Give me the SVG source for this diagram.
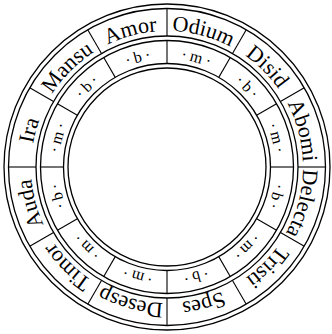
<svg xmlns="http://www.w3.org/2000/svg" xmlns:xlink="http://www.w3.org/1999/xlink" width="332" height="334" viewBox="0 0 332 334">
<style>
.ring{fill:none;stroke:#000;stroke-width:1.3}
.div{stroke:#000;stroke-width:1.1}
.w{font-family:"Liberation Serif","DejaVu Serif",serif;font-size:22px;fill:#000}
.s{font-family:"Liberation Serif","DejaVu Serif",serif;font-size:16px;fill:#000;letter-spacing:3px}
</style>
<defs>
<path id="po" d="M167 31 A136 136 0 1 1 167 303 A136 136 0 1 1 167 31"/>
<path id="pi" d="M167 58.5 A108.5 108.5 0 1 1 167 275.5 A108.5 108.5 0 1 1 167 58.5"/>
<line id="d1" x1="167" y1="8.5" x2="167" y2="36" class="div"/>
<line id="d2" x1="167" y1="40.5" x2="167" y2="63.5" class="div"/>
</defs>
<rect width="332" height="334" fill="#fff"/>
<g id="rings">
<circle class="ring" cx="167" cy="167" r="163"/>
<circle class="ring" cx="167" cy="167" r="158.5"/>
<circle class="ring" cx="167" cy="167" r="131"/>
<circle class="ring" cx="167" cy="167" r="126.5"/>
<circle class="ring" cx="167" cy="167" r="103.5"/>
<circle class="ring" cx="167" cy="167" r="99"/>
</g>
<g id="connectors">
<use href="#d1"/><use href="#d1" transform="rotate(30 167 167)"/><use href="#d1" transform="rotate(60 167 167)"/><use href="#d1" transform="rotate(90 167 167)"/><use href="#d1" transform="rotate(120 167 167)"/><use href="#d1" transform="rotate(150 167 167)"/><use href="#d1" transform="rotate(180 167 167)"/><use href="#d1" transform="rotate(210 167 167)"/><use href="#d1" transform="rotate(240 167 167)"/><use href="#d1" transform="rotate(270 167 167)"/><use href="#d1" transform="rotate(300 167 167)"/><use href="#d1" transform="rotate(330 167 167)"/>
<use href="#d2"/><use href="#d2" transform="rotate(30 167 167)"/><use href="#d2" transform="rotate(60 167 167)"/><use href="#d2" transform="rotate(90 167 167)"/><use href="#d2" transform="rotate(120 167 167)"/><use href="#d2" transform="rotate(150 167 167)"/><use href="#d2" transform="rotate(180 167 167)"/><use href="#d2" transform="rotate(210 167 167)"/><use href="#d2" transform="rotate(240 167 167)"/><use href="#d2" transform="rotate(270 167 167)"/><use href="#d2" transform="rotate(300 167 167)"/><use href="#d2" transform="rotate(330 167 167)"/>
</g>
<g id="amor" transform="rotate(-30 167 167)"><text class="w"><textPath href="#po" startOffset="4.1667%" text-anchor="middle">Amor</textPath></text><text class="s" dx="1.5"><textPath href="#pi" startOffset="4.1667%" text-anchor="middle">·b·</textPath></text></g>
<g id="odium" transform="rotate(0 167 167)"><text class="w"><textPath href="#po" startOffset="4.1667%" text-anchor="middle">Odium</textPath></text><text class="s" dx="1.5"><textPath href="#pi" startOffset="4.1667%" text-anchor="middle">·m·</textPath></text></g>
<g id="disid" transform="rotate(30 167 167)"><text class="w"><textPath href="#po" startOffset="4.1667%" text-anchor="middle">Disid</textPath></text><text class="s" dx="1.5"><textPath href="#pi" startOffset="4.1667%" text-anchor="middle">·b·</textPath></text></g>
<g id="abomi" transform="rotate(60 167 167)"><text class="w"><textPath href="#po" startOffset="4.1667%" text-anchor="middle">Abomi</textPath></text><text class="s" dx="1.5"><textPath href="#pi" startOffset="4.1667%" text-anchor="middle">·m·</textPath></text></g>
<g id="delecta" transform="rotate(90 167 167)"><text class="w"><textPath href="#po" startOffset="4.1667%" text-anchor="middle">Delecta</textPath></text><text class="s" dx="1.5"><textPath href="#pi" startOffset="4.1667%" text-anchor="middle">·b·</textPath></text></g>
<g id="tristi" transform="rotate(120 167 167)"><text class="w"><textPath href="#po" startOffset="4.1667%" text-anchor="middle">Tristi</textPath></text><text class="s" dx="1.5"><textPath href="#pi" startOffset="4.1667%" text-anchor="middle">·m·</textPath></text></g>
<g id="spes" transform="rotate(150 167 167)"><text class="w"><textPath href="#po" startOffset="4.1667%" text-anchor="middle">Spes</textPath></text><text class="s" dx="1.5"><textPath href="#pi" startOffset="4.1667%" text-anchor="middle">·b·</textPath></text></g>
<g id="desesp" transform="rotate(180 167 167)"><text class="w"><textPath href="#po" startOffset="4.1667%" text-anchor="middle">Desesp</textPath></text><text class="s" dx="1.5"><textPath href="#pi" startOffset="4.1667%" text-anchor="middle">·m·</textPath></text></g>
<g id="timor" transform="rotate(210 167 167)"><text class="w"><textPath href="#po" startOffset="4.1667%" text-anchor="middle">Timor</textPath></text><text class="s" dx="1.5"><textPath href="#pi" startOffset="4.1667%" text-anchor="middle">·m·</textPath></text></g>
<g id="auda" transform="rotate(240 167 167)"><text class="w"><textPath href="#po" startOffset="4.1667%" text-anchor="middle">Auda</textPath></text><text class="s" dx="1.5"><textPath href="#pi" startOffset="4.1667%" text-anchor="middle">·b·</textPath></text></g>
<g id="ira" transform="rotate(270 167 167)"><text class="w"><textPath href="#po" startOffset="4.1667%" text-anchor="middle">Ira</textPath></text><text class="s" dx="1.5"><textPath href="#pi" startOffset="4.1667%" text-anchor="middle">·m·</textPath></text></g>
<g id="mansu" transform="rotate(300 167 167)"><text class="w"><textPath href="#po" startOffset="4.1667%" text-anchor="middle">Mansu</textPath></text><text class="s" dx="1.5"><textPath href="#pi" startOffset="4.1667%" text-anchor="middle">·b·</textPath></text></g>
</svg>
